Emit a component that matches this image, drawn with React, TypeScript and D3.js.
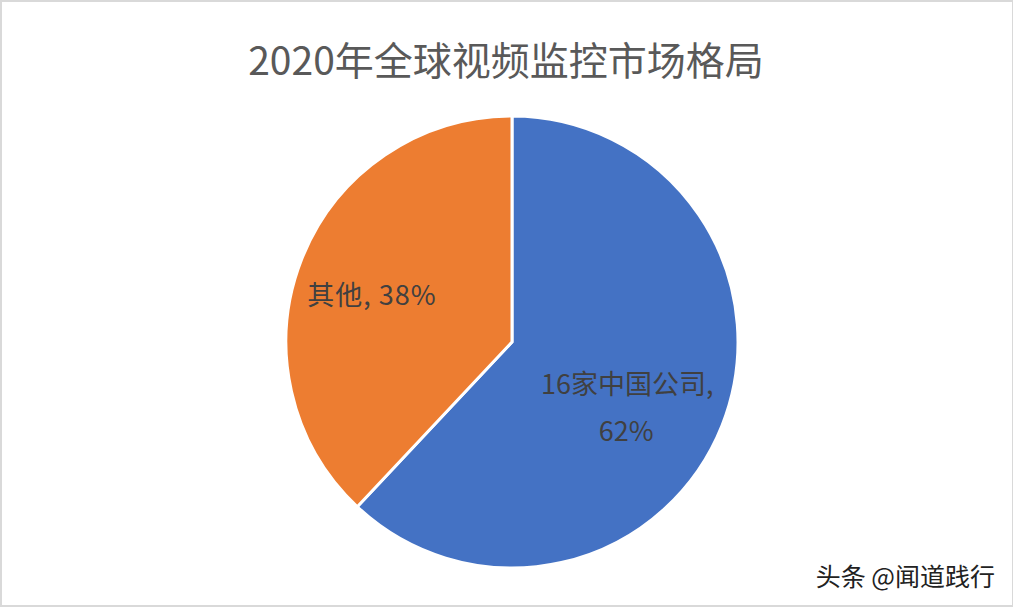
import React from "react";
import * as d3 from "d3";

const categories = ["16家中国公司", "其他"];
const values = [62, 38];
const colors = ["#4472C4", "#ED7D31"];
const title = "2020年全球视频监控市场格局";
const watermark = "头条 @闻道践行";

const W = 1013;
const H = 609;
const cx = 512;
const cy = 342;
const R = 226;

export default function App() {
  const pie = d3.pie<number>().sort(null).value((d) => d)(values);
  const arc = d3.arc<d3.PieArcDatum<number>>().innerRadius(0).outerRadius(R);
  const labelArc = d3.arc<d3.PieArcDatum<number>>().innerRadius(140).outerRadius(140);
  const font = "'Noto Sans CJK SC', 'Noto Sans', sans-serif";
  return (
    <svg
      width={W}
      height={H}
      style={{ position: "fixed", left: 0, top: 0, background: "#fff" }}
      fontFamily={font}
    >
      <rect x={1} y={1} width={W - 1} height={H - 4} fill="#fff" stroke="#d9d9d9" strokeWidth={2} />
      <text x={506} y={58} textAnchor="middle" dominantBaseline="central" fontSize={39} fill="#595959">
        {title}
      </text>
      <g transform={`translate(${cx},${cy})`}>
        {pie.map((p, i) => (
          <path key={i} d={arc(p) || ""} fill={colors[i]} stroke="#fff" strokeWidth={3} />
        ))}
        {pie.map((p, i) => {
          const [lx, ly] = labelArc.centroid(p);
          if (i === 0) {
            return (
              <text key={"l" + i} textAnchor="middle" fontSize={27} fill="#404040">
                <tspan x={lx - 15} y={ly + 0}>{`${categories[i]},`}</tspan>
                <tspan x={lx - 16} y={ly + 47}>{`${values[i]}%`}</tspan>
              </text>
            );
          }
          return (
            <text key={"l" + i} x={lx - 10} y={ly + 15} textAnchor="middle" fontSize={27} fill="#404040" letterSpacing={1}>
              {`${categories[i]}, ${values[i]}%`}
            </text>
          );
        })}
      </g>
      <text x={995} y={586} textAnchor="end" fontSize={25} fill="#222">
        {watermark}
      </text>
    </svg>
  );
}
